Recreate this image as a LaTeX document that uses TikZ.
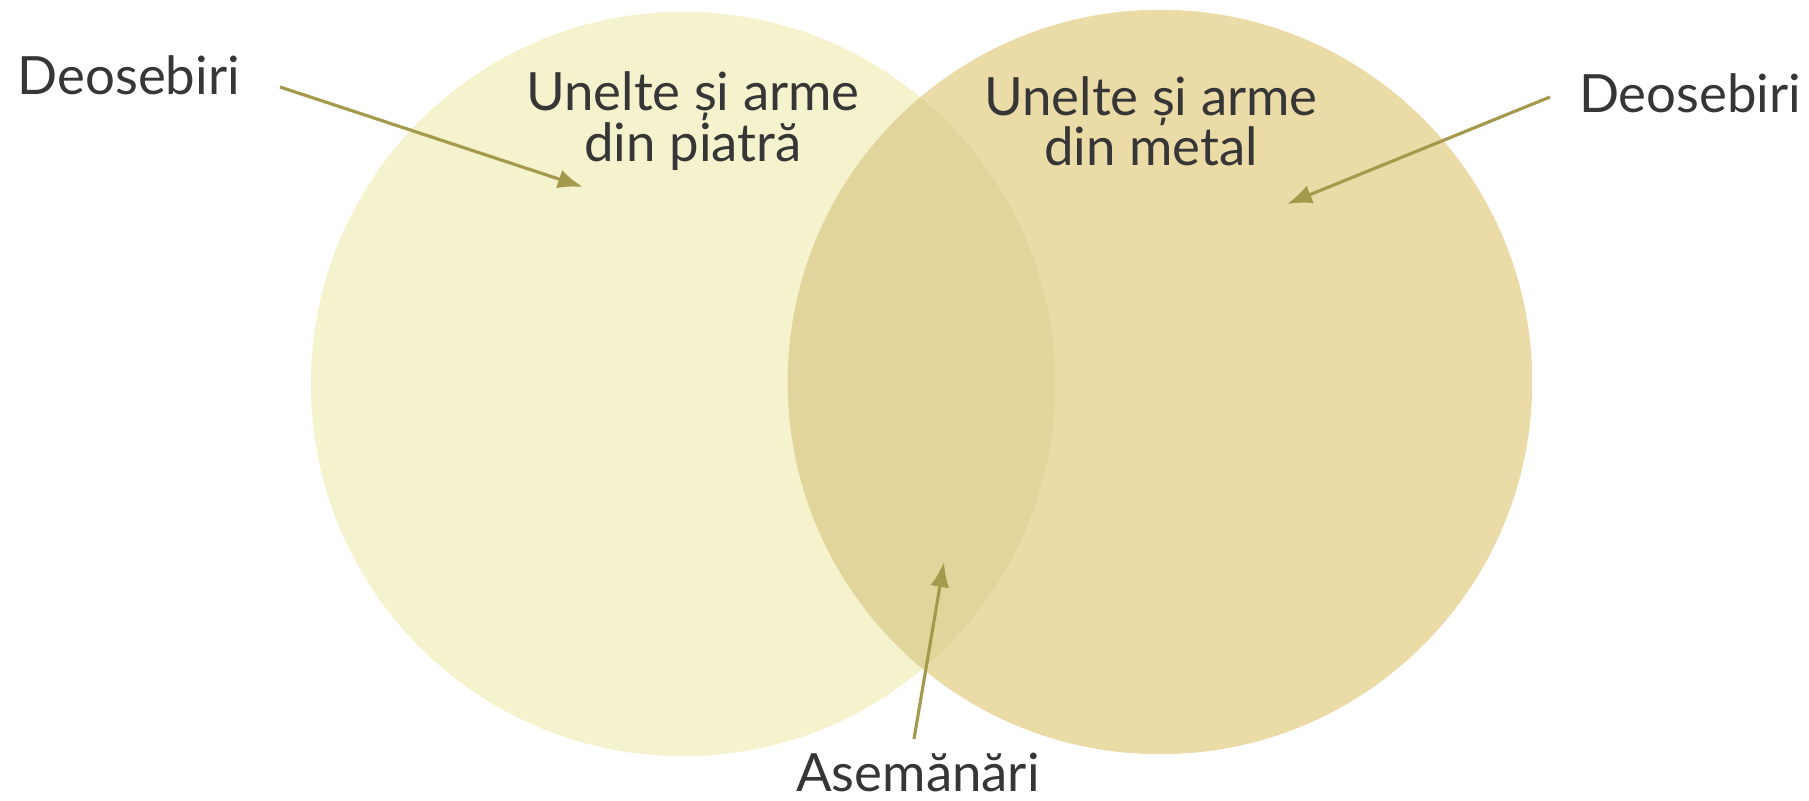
\documentclass[tikz,border=0pt]{standalone}
\usepackage{fontspec}
\setmainfont{Lato}
\usetikzlibrary{arrows.meta}
\definecolor{stone}{HTML}{F5F2CE}
\definecolor{metal}{HTML}{EBDBA6}
\definecolor{common}{HTML}{E2D59C}
\definecolor{arrowc}{HTML}{A59A4C}
\definecolor{ink}{HTML}{363636}

\begin{document}
\begin{tikzpicture}[x=0.01cm, y=-0.01cm, txt/.style={text=ink, font=\fontsize{15}{14.3}\selectfont, align=center, inner sep=0pt}, pointer/.style={draw=arrowc, line width=0.9pt, -{Latex[length=2.5mm,width=1.9mm]}},]
   \useasboundingbox (0,0) rectangle (1809,801);
   \fill[stone] (683,384) circle[radius=3.72cm];
   \fill[metal] (1160,382) circle[radius=3.72cm];
   \begin{scope}
      \clip (683,384) circle[radius=3.72cm];
      \fill[common] (1160,382) circle[radius=3.72cm];
   \end{scope}
   \node[txt] (stonetitle) at (693,121) {Unelte și arme\\din piatră};
   \node[txt] (metaltitle) at (1151,121) {Unelte și arme\\din metal};
   \node[txt, anchor=base west] (diffL) at (17,95) {Deosebiri};
   \node[txt, anchor=base east] (diffR) at (1802,113) {Deosebiri};
   \node[txt, anchor=base] (same) at (918,792) {Asemănări};
   \coordinate (fromL) at (280,87);
   \coordinate (tipL) at (583,187);
   \coordinate (fromR) at (1550,97);
   \coordinate (tipR) at (1287,204);
   \coordinate (fromS) at (914,739);
   \coordinate (tipS) at (944,562);
   \draw[pointer] (fromL) -- (tipL);
   \draw[pointer] (fromR) -- (tipR);
   \draw[pointer] (fromS) -- (tipS);
\end{tikzpicture}
\end{document}
